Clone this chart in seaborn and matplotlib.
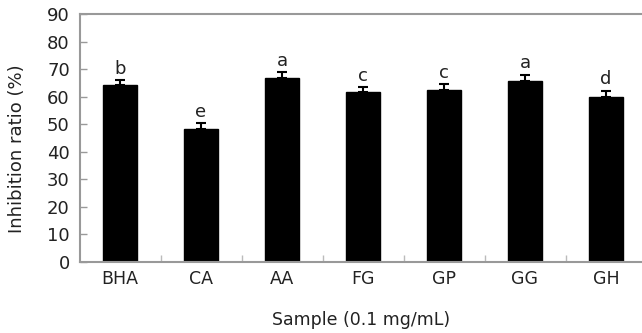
import numpy as np
import pandas as pd
import matplotlib
matplotlib.use('Agg')
import matplotlib.pyplot as plt
import seaborn as sns

# values
samples = ['BHA', 'CA', 'AA', 'FG', 'GP', 'GG', 'GH']
inhibition = [64.2, 48.3, 66.6, 61.6, 62.3, 65.8, 60.0]
errors = [1.8, 2.0, 2.2, 1.8, 2.2, 2.2, 2.2]
letters = ['b', 'e', 'a', 'c', 'c', 'a', 'd']
y_ticks = [0, 10, 20, 30, 40, 50, 60, 70, 80, 90]

df = pd.DataFrame({'sample': samples, 'ratio': inhibition})

sns.set_style('white')
plt.rcParams['font.family'] = ['DejaVu Sans']

fig = plt.figure(figsize=(6.42, 3.33), dpi=100)
ax = fig.add_axes([79.5 / 642, 71 / 333, (642 - 79.5) / 642, 248 / 333])

sns.barplot(data=df, x='sample', y='ratio', color='black', width=0.42,
            errorbar=None, ax=ax)
for p in ax.patches:
    p.set_facecolor('black')
    p.set_edgecolor('black')

x = np.arange(len(samples))
ax.errorbar(x, inhibition, yerr=[np.zeros(len(errors)), errors], fmt='none',
            ecolor='black', elinewidth=1.5, capsize=3.6, capthick=1.5)

for xi, v, e, lab in zip(x, inhibition, errors, letters):
    ax.text(xi, v + e + 0.9, lab, ha='center', va='bottom', fontsize=13,
            color='#222222')

ax.set_ylim(0, 90)
ax.set_xlim(-0.5, 6.5 - 4.5 / 81)
ax.set_yticks(y_ticks)
ax.set_xticks(x)
ax.set_xticklabels(samples)
ax.set_xticks(np.arange(len(samples) - 1) + 0.5, minor=True)
ax.tick_params(axis='y', direction='in', length=5, width=1, color='#999999',
               labelsize=13, pad=7, labelcolor='#222222', left=True)
ax.tick_params(axis='x', which='major', length=0, labelsize=12.5, pad=6,
               labelcolor='#222222')
ax.tick_params(axis='x', which='minor', direction='in', length=5, width=1,
               color='#bbbbbb', bottom=True)

for side in ['left', 'bottom', 'top']:
    ax.spines[side].set_color('#999999')
    ax.spines[side].set_linewidth(1.5)
ax.spines['right'].set_visible(False)

ax.set_ylabel('Inhibition ratio (%)', fontsize=13, color='#222222')
ax.yaxis.set_label_coords((26 - 79.5) / 562.5, (262 - 149) / 248)
ax.set_xlabel('Sample (0.1 mg/mL)', fontsize=12.5, color='#222222', labelpad=16)

fig.savefig('out.png', dpi=100)
